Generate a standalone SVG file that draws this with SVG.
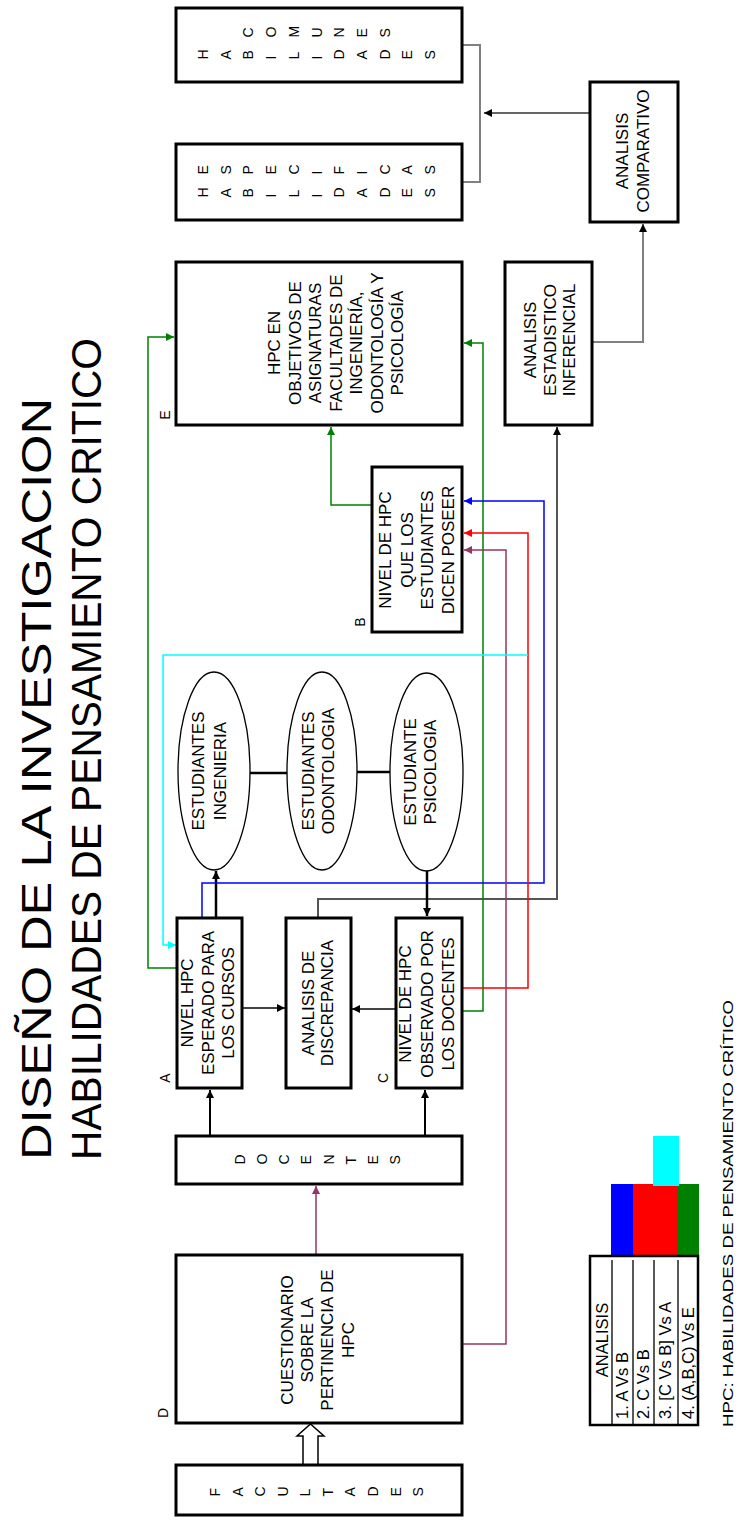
<svg xmlns="http://www.w3.org/2000/svg" width="739" height="1522" viewBox="0 0 739 1522">
<style>
.box{fill:#fff;stroke:#000;stroke-width:3}
.ell{fill:#fff;stroke:#000;stroke-width:1.3}
.t{font-family:"Liberation Sans",Arial,sans-serif;font-size:17px;text-anchor:middle;fill:#000}
.s{font-family:"Liberation Sans",Arial,sans-serif;font-size:14px;fill:#000}
.lb{font-family:"Liberation Sans",Arial,sans-serif;font-size:14px;text-anchor:middle;fill:#000}
.tb{font-family:"Liberation Sans",Arial,sans-serif;font-size:16.5px;fill:#000}
.ttl{font-family:"Liberation Sans",Arial,sans-serif;font-size:42px;text-anchor:middle;fill:#000}
.c{fill:none;stroke-linejoin:miter}
</style>
<defs>
<marker id="mk" viewBox="0 0 10 10" refX="10" refY="5" markerWidth="9" markerHeight="8" markerUnits="userSpaceOnUse" orient="auto"><path d="M0,0L10,5L0,10z" fill="#000"/></marker>
<marker id="mgr" viewBox="0 0 10 10" refX="10" refY="5" markerWidth="9" markerHeight="8" markerUnits="userSpaceOnUse" orient="auto"><path d="M0,0L10,5L0,10z" fill="#008000"/></marker>
<marker id="mb" viewBox="0 0 10 10" refX="10" refY="5" markerWidth="9" markerHeight="8" markerUnits="userSpaceOnUse" orient="auto"><path d="M0,0L10,5L0,10z" fill="#0000ff"/></marker>
<marker id="mr" viewBox="0 0 10 10" refX="10" refY="5" markerWidth="9" markerHeight="8" markerUnits="userSpaceOnUse" orient="auto"><path d="M0,0L10,5L0,10z" fill="#ff0000"/></marker>
<marker id="mp" viewBox="0 0 10 10" refX="10" refY="5" markerWidth="9" markerHeight="8" markerUnits="userSpaceOnUse" orient="auto"><path d="M0,0L10,5L0,10z" fill="#993366"/></marker>
<marker id="mc" viewBox="0 0 10 10" refX="10" refY="5" markerWidth="9" markerHeight="8" markerUnits="userSpaceOnUse" orient="auto"><path d="M0,0L10,5L0,10z" fill="#00ffff"/></marker>
</defs>
<rect width="739" height="1522" fill="#fff"/>

<g id="title">
<g transform="translate(0,779) rotate(-90)"><text class="ttl" x="0" y="51" textLength="762" lengthAdjust="spacingAndGlyphs">DISEÑO DE LA INVESTIGACION</text></g>
<g transform="translate(0,749) rotate(-90)"><text class="ttl" x="0" y="101" textLength="822" lengthAdjust="spacingAndGlyphs">HABILIDADES DE PENSAMIENTO CRITICO</text></g>
</g>

<g id="connectors">
<path class="c" d="M462,45H480V182H462" stroke="#808080" stroke-width="2"/>
<path class="c" d="M590,113H484" stroke="#333" stroke-width="1.5" marker-end="url(#mk)"/>
<path class="c" d="M592,342H643V224" stroke="#808080" stroke-width="2" marker-end="url(#mk)"/>
<path class="c" d="M318,918V899H557V427" stroke="#555" stroke-width="2" marker-end="url(#mk)"/>
<path class="c" d="M216,917V871" stroke="#000" stroke-width="2.5" marker-end="url(#mk)"/>
<path class="c" d="M427,871V916" stroke="#000" stroke-width="2.5" marker-end="url(#mk)"/>
<path class="c" d="M243,1008H285" stroke="#444" stroke-width="2" marker-end="url(#mk)"/>
<path class="c" d="M395,1009H352" stroke="#444" stroke-width="2" marker-end="url(#mk)"/>
<path class="c" d="M210,1135V1090" stroke="#000" stroke-width="2" marker-end="url(#mk)"/>
<path class="c" d="M425,1135V1090" stroke="#000" stroke-width="2" marker-end="url(#mk)"/>
<path class="c" d="M250,773H287" stroke="#000" stroke-width="2.5"/>
<path class="c" d="M357,772H390" stroke="#000" stroke-width="2.5"/>
<path class="c" d="M177,968H148V337H174" stroke="#008000" stroke-width="1.5" marker-end="url(#mgr)"/>
<path class="c" d="M463,1011H483V343H464" stroke="#008000" stroke-width="1.5" marker-end="url(#mgr)"/>
<path class="c" d="M372,505H331V427" stroke="#008000" stroke-width="1.5" marker-end="url(#mgr)"/>
<path class="c" d="M202,918V883H544V501H464" stroke="#0000ff" stroke-width="1.5" marker-end="url(#mb)"/>
<path class="c" d="M463,988H528V533H464" stroke="#ff0000" stroke-width="1.5" marker-end="url(#mr)"/>
<path class="c" d="M463,1344H506V550H464" stroke="#993366" stroke-width="1.5" marker-end="url(#mp)"/>
<path class="c" d="M316,1254V1186" stroke="#993366" stroke-width="1.5" marker-end="url(#mp)"/>
<path class="c" d="M528,655H163V945H176" stroke="#00ffff" stroke-width="1.5" marker-end="url(#mc)"/>
<polygon points="303,1465 303,1436 297,1436 310.5,1424 324,1436 318,1436 318,1465" fill="#fff" stroke="#000" stroke-width="1.5"/>
</g>

<g id="comunes">
<rect class="box" x="176" y="8" width="286" height="74"/>
<text class="s" x="253.4 276.1 298.8 321.5 344.2 366.9 389.6" y="37.5" rotate="-90">COMUNES</text>
<text class="s" x="208 230.7 253.4 276.1 298.8 321.5 344.2 366.9 389.6 412.3 435" y="59.5" rotate="-90">HABILIDADES</text>
</g>
<g id="especificas">
<rect class="box" x="176" y="144" width="286" height="76"/>
<text class="s" x="208 230.7 253.4 276.1 298.8 321.5 344.2 366.9 389.6 412.3 435" y="174.5" rotate="-90">ESPECIFICAS</text>
<text class="s" x="208 230.7 253.4 276.1 298.8 321.5 344.2 366.9 389.6 412.3 435" y="197.5" rotate="-90">HABILIDADES</text>
</g>

<g id="comparativo">
<rect class="box" x="590" y="82" width="88" height="140"/>
<g transform="translate(0,151) rotate(-90)"><text class="t" x="0" y="628">ANALISIS</text><text class="t" x="0" y="649">COMPARATIVO</text></g>
</g>

<g id="estadistico">
<rect class="box" x="505" y="262" width="87" height="163"/>
<g transform="translate(0,340) rotate(-90)"><text class="t" x="0" y="536">ANALISIS</text><text class="t" x="0" y="556">ESTADISTICO</text><text class="t" x="0" y="575">INFERENCIAL</text></g>
</g>

<g id="nodeE">
<rect class="box" x="176" y="262" width="286" height="163"/>
<g transform="translate(0,343) rotate(-90)">
<text class="t" x="0" y="280">HPC EN</text>
<text class="t" x="0" y="300.5">OBJETIVOS DE</text>
<text class="t" x="0" y="321">ASIGNATURAS</text>
<text class="t" x="0" y="341.5">FACULTADES DE</text>
<text class="t" x="0" y="362">INGENIERÍA,</text>
<text class="t" x="0" y="382.5">ODONTOLOGÍA Y</text>
<text class="t" x="0" y="403">PSICOLOGÍA</text>
</g>
<g transform="translate(0,415) rotate(-90)"><text class="lb" x="0" y="170">E</text></g>
</g>

<g id="nodeB">
<rect class="box" x="372" y="467" width="90" height="165"/>
<g transform="translate(0,550) rotate(-90)">
<text class="t" x="0" y="391">NIVEL DE HPC</text>
<text class="t" x="0" y="413">QUE LOS</text>
<text class="t" x="0" y="433">ESTUDIANTES</text>
<text class="t" x="0" y="454">DICEN POSEER</text>
</g>
<g transform="translate(0,622) rotate(-90)"><text class="lb" x="0" y="365">B</text></g>
</g>

<g id="ingenieria">
<ellipse class="ell" cx="214" cy="771" rx="36" ry="99"/>
<g transform="translate(0,771) rotate(-90)"><text class="t" x="0" y="204">ESTUDIANTES</text><text class="t" x="0" y="226">INGENIERIA</text></g>
</g>
<g id="odontologia">
<ellipse class="ell" cx="322" cy="771" rx="35" ry="99"/>
<g transform="translate(0,771) rotate(-90)"><text class="t" x="0" y="314">ESTUDIANTES</text><text class="t" x="0" y="334">ODONTOLOGIA</text></g>
</g>
<g id="psicologia">
<ellipse class="ell" cx="426.5" cy="772" rx="36.5" ry="99"/>
<g transform="translate(0,772) rotate(-90)"><text class="t" x="0" y="416">ESTUDIANTE</text><text class="t" x="0" y="436">PSICOLOGIA</text></g>
</g>

<g id="nodeA">
<rect class="box" x="177" y="918" width="65" height="170"/>
<g transform="translate(0,1003) rotate(-90)">
<text class="t" x="0" y="193">NIVEL HPC</text>
<text class="t" x="0" y="214">ESPERADO PARA</text>
<text class="t" x="0" y="234">LOS CURSOS</text>
</g>
<g transform="translate(0,1078) rotate(-90)"><text class="lb" x="0" y="170">A</text></g>
</g>

<g id="discrepancia">
<rect class="box" x="286" y="918" width="65" height="170"/>
<g transform="translate(0,1003) rotate(-90)">
<text class="t" x="0" y="314">ANALISIS DE</text>
<text class="t" x="0" y="333">DISCREPANCIA</text>
</g>
</g>

<g id="nodeC">
<rect class="box" x="396" y="918" width="66" height="170"/>
<g transform="translate(0,1004) rotate(-90)">
<text class="t" x="0" y="411">NIVEL DE HPC</text>
<text class="t" x="0" y="433">OBSERVADO POR</text>
<text class="t" x="0" y="454">LOS DOCENTES</text>
</g>
<g transform="translate(0,1078) rotate(-90)"><text class="lb" x="0" y="388">C</text></g>
</g>

<g id="docentes">
<rect class="box" x="176" y="1136" width="286" height="48"/>
<text class="s" x="245 267.1 289.3 311.4 333.6 355.7 377.9 400" y="1164.5" rotate="-90">DOCENTES</text>
</g>

<g id="nodeD">
<rect class="box" x="176" y="1255" width="286" height="168"/>
<g transform="translate(0,1340) rotate(-90)">
<text class="t" x="0" y="293">CUESTIONARIO</text>
<text class="t" x="0" y="313">SOBRE LA</text>
<text class="t" x="0" y="333">PERTINENCIA DE</text>
<text class="t" x="0" y="354">HPC</text>
</g>
<g transform="translate(0,1413) rotate(-90)"><text class="lb" x="0" y="168">D</text></g>
</g>

<g id="facultades">
<rect class="box" x="176" y="1465" width="286" height="50"/>
<text class="s" x="220 242.6 265.1 287.7 310.2 332.8 355.4 377.9 400.5 423" y="1496.5" rotate="-90">FACULTADES</text>
</g>

<g id="legend">
<rect x="611" y="1184" width="22" height="71" fill="#0000ff"/>
<rect x="633" y="1184" width="44" height="71" fill="#ff0000"/>
<rect x="677" y="1184" width="22" height="71" fill="#008000"/>
<rect x="653" y="1136" width="26" height="50" fill="#00ffff"/>
<rect x="590" y="1256" width="108" height="169" fill="#fff" stroke="#000" stroke-width="2.5"/>
<path d="M612,1260V1425M633,1260V1425M654,1260V1425M678,1260V1425" stroke="#000" stroke-width="1.3" fill="none"/>
<g transform="translate(0,1340) rotate(-90)"><text class="tb" x="0" y="608" text-anchor="middle">ANALISIS</text></g>
<g transform="translate(0,1419) rotate(-90)">
<text class="tb" x="0" y="628">1. A Vs B</text>
<text class="tb" x="0" y="649">2. C Vs B</text>
<text class="tb" x="0" y="671">3. [C Vs B] Vs A</text>
<text class="tb" x="0" y="694">4. (A,B,C) Vs E</text>
</g>
</g>

<g id="footnote">
<g transform="translate(0,1427) rotate(-90)"><text class="s" x="0" y="733" textLength="427" lengthAdjust="spacingAndGlyphs">HPC: HABILIDADES DE PENSAMIENTO CRÍTICO</text></g>
</g>
</svg>
